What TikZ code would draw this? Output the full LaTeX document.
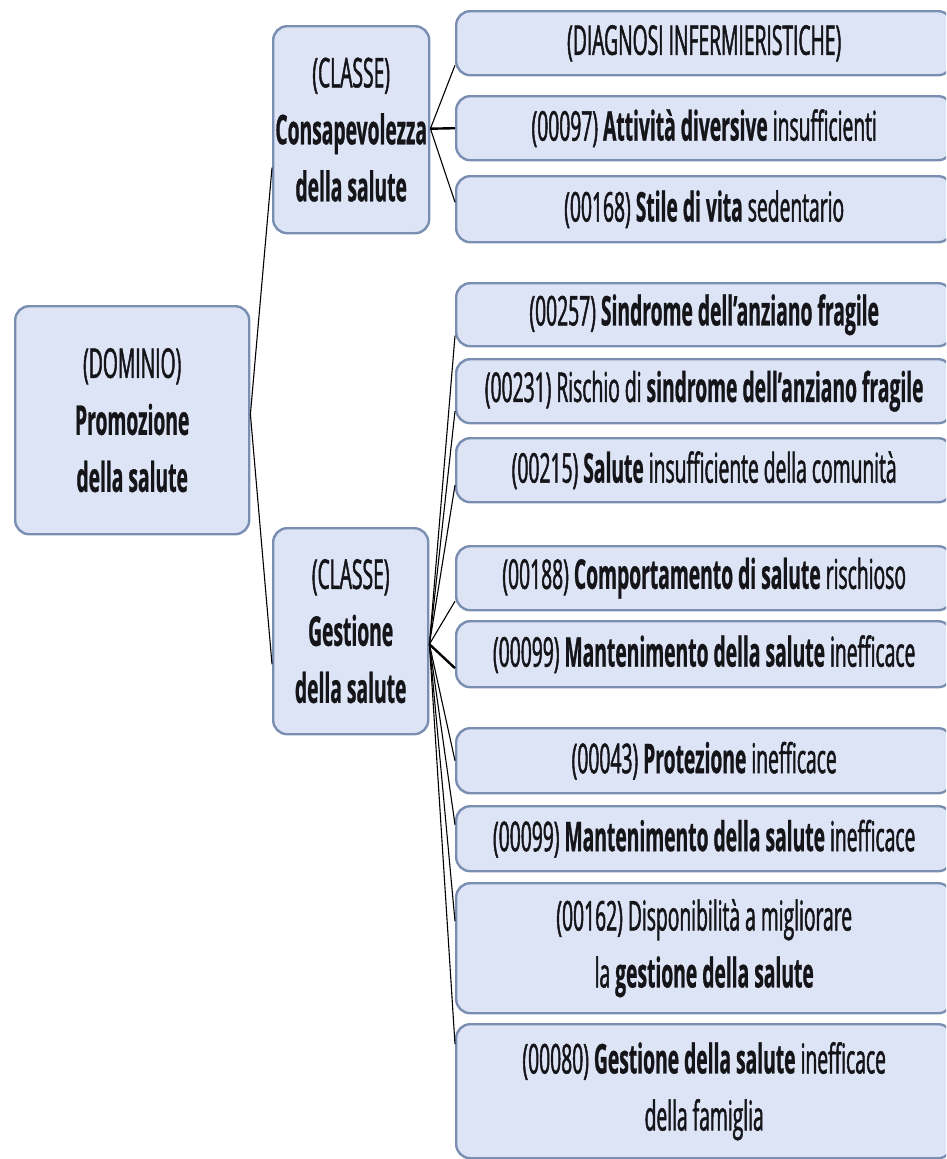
\documentclass[tikz,border=0pt]{standalone}
\usepackage{fontspec}
\setmainfont{Open Sans}[FakeStretch=0.47,
  UprightFeatures={FakeBold=1.2}, BoldFeatures={FakeBold=0.6}]
\definecolor{boxfill}{RGB}{220,228,245}
\definecolor{boxline}{RGB}{122,142,178}
\definecolor{ink}{RGB}{20,20,25}

\begin{document}
\begin{tikzpicture}[x=1pt,y=-1pt,
  box/.style={draw=boxline, fill=boxfill, line width=2.4pt, rounded corners=14pt,
    align=center, text=ink, inner sep=0pt, anchor=north west,
    font=\fontsize{41}{57}\selectfont},
  diag/.style={box, minimum width=496pt},
  link/.style={draw=black, line width=1.1pt},
  heavylink/.style={link, line width=2.4pt}]
\useasboundingbox (0,0) rectangle (946,1159);
\clip (0,0) rectangle (946,1159);
\fill[white] (0,0) rectangle (946,1159);

% domain and classes
\node[box, minimum width=234pt, minimum height=228pt] (dom) at (14,305)
  {(DOMINIO)\\\textbf{Promozione}\\\textbf{della salute}};
\node[box, minimum width=156pt, minimum height=207pt] (c1) at (272,25)
  {(CLASSE)\\\textbf{Consapevolezza}\\\textbf{della salute}};
\node[box, minimum width=155pt, minimum height=206pt] (c2) at (272,527)
  {(CLASSE)\\\textbf{Gestione}\\\textbf{della salute}};

% diagnoses
\node[diag, minimum height=64pt] (d1) at (455,10) {(DIAGNOSI INFERMIERISTICHE)};
\node[diag, minimum height=64pt] (d2) at (455,95) {(00097) \textbf{Attività diversive} insufficienti};
\node[diag, minimum height=66pt] (d3) at (455,175) {(00168) \textbf{Stile di vita} sedentario};
\node[diag, minimum height=63pt] (d4) at (455,282) {(00257) \textbf{Sindrome dell’anziano fragile}};
\node[diag, minimum height=64pt] (d5) at (455,358) {(00231) Rischio di \textbf{sindrome dell’anziano fragile}};
\node[diag, minimum height=64pt] (d6) at (455,437) {(00215) \textbf{Salute} insufficiente della comunità};
\node[diag, minimum height=64pt] (d7) at (455,545) {(00188) \textbf{Comportamento di salute} rischioso};
\node[diag, minimum height=66pt] (d8) at (455,620) {(00099) \textbf{Mantenimento della salute} inefficace};
\node[diag, minimum height=65pt] (d9) at (455,727) {(00043) \textbf{Protezione} inefficace};
\node[diag, minimum height=65pt] (d10) at (455,805) {(00099) \textbf{Mantenimento della salute} inefficace};
\node[diag, minimum height=130pt] (d11) at (455,882) {(00162) Disponibilità a migliorare\\la \textbf{gestione della salute}};
\node[diag, minimum height=134pt] (d12) at (455,1023) {(00080) \textbf{Gestione della salute} inefficace\\della famiglia};

% connectors
\coordinate (j0) at ([yshift=6pt]dom.east);
\draw[link] (j0) -- ([yshift=-38pt]c1.west);
\draw[link] (j0) -- ([yshift=-33pt]c2.west);

\coordinate (j1) at ([yshift=1pt]c1.east);
\draw[link] (j1) -- ([yshift=-22pt]d1.west);
\draw[heavylink] (j1) -- (d2.west);
\draw[link] (j1) -- ([yshift=7pt]d3.west);

\coordinate (j2) at ([yshift=-13pt]c2.east);
\draw[link] (j2) -- ([yshift=-21pt]d4.west);
\draw[link] (j2) -- ([yshift=-20pt]d5.west);
\draw[link] (j2) -- ([yshift=-15pt]d6.west);
\draw[link] (j2) -- ([yshift=-23pt]d7.west);
\draw[heavylink] (j2) -- ([yshift=-14pt]d8.west);
\draw[link] (j2) -- (d9.west);
\draw[link] (j2) -- ([yshift=14pt]d10.west);
\draw[link] (j2) -- ([yshift=27pt]d11.west);
\draw[link] (j2) -- ([yshift=47pt]d12.west);
\end{tikzpicture}
\end{document}
